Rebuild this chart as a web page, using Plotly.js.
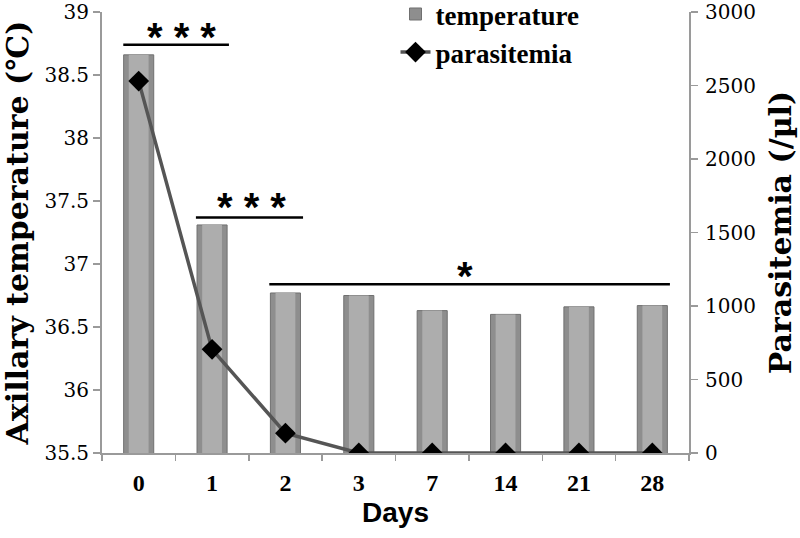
<!DOCTYPE html>
<html>
<head>
<meta charset="utf-8">
<script src="https://cdn.plot.ly/plotly-3.0.1.min.js"></script>
<style>body{margin:0;padding:0;background:#fff;}#chart{width:800px;height:538px;}</style>
</head>
<body>
<div id="chart"></div>
<script>
const days = ['0', '1', '2', '3', '7', '14', '21', '28'];
const temperature = [38.66, 37.31, 36.77, 36.75, 36.63, 36.60, 36.66, 36.67];
const parasitemia = [2530, 705, 135, 0, 0, 0, 0, 0];
const tempTicks = [35.5, 36, 36.5, 37, 37.5, 38, 38.5, 39];
const paraTicks = [0, 500, 1000, 1500, 2000, 2500, 3000];

const axisGrey = '#9a9a9a';

const traces = [
  {
    type: 'bar', x: days, y: temperature, name: 'temperature', width: 0.41,
    marker: {color: '#8e8e8e', line: {color: '#707070', width: 1}},
    hoverinfo: 'y'
  },
  {
    type: 'bar', x: days, y: temperature, name: 'temperature-inner', width: 0.27,
    marker: {color: '#adadad'}, showlegend: false, hoverinfo: 'skip'
  },
  {
    type: 'scatter', mode: 'lines+markers', x: days, y: parasitemia, name: 'parasitemia',
    yaxis: 'y2',
    line: {color: '#555555', width: 3.5},
    marker: {symbol: 'diamond', size: 16, color: '#000000'}
  }
];

const serifTick = {family: 'DejaVu Serif', size: 20, color: '#000'};
const titleFont = {family: 'DejaVu Serif', size: 30, color: '#000', weight: 'bold'};
const starFont = {family: 'Liberation Sans', size: 40, color: '#000', weight: 'bold'};

const layout = {
  width: 800, height: 538,
  margin: {l: 102, r: 111, t: 12, b: 85, autoexpand: false},
  paper_bgcolor: '#ffffff', plot_bgcolor: '#ffffff',
  barmode: 'overlay',
  showlegend: true,
  legend: {
    x: 0.50, y: 1.05, xanchor: 'left', yanchor: 'top',
    bgcolor: 'rgba(0,0,0,0)',
    font: {family: 'Liberation Serif', size: 27, color: '#000', weight: 'bold'},
    tracegroupgap: 0
  },
  xaxis: {
    type: 'category', categoryorder: 'array', categoryarray: days,
    range: [-0.5, 7.5],
    tickson: 'boundaries', ticks: 'outside', ticklen: 6, tickcolor: axisGrey, tickwidth: 1.5,
    showline: true, linecolor: axisGrey, linewidth: 2,
    showgrid: false, zeroline: false,
    ticklabelstandoff: 7,
    tickfont: {family: 'Liberation Serif', size: 24, color: '#000', weight: 'bold'},
    title: {text: 'Days', font: {family: 'Liberation Sans', size: 28, color: '#000', weight: 'bold'}, standoff: 8}
  },
  yaxis: {
    range: [35.5, 39], tickvals: tempTicks, ticktext: tempTicks.map(String),
    ticks: 'outside', ticklen: 7, tickcolor: axisGrey, tickwidth: 1.5,
    showline: true, linecolor: axisGrey, linewidth: 2,
    showgrid: false, zeroline: false,
    tickfont: serifTick,
    title: {text: 'Axillary temperature (℃)', font: titleFont, standoff: 7}
  },
  yaxis2: {
    overlaying: 'y', side: 'right',
    range: [0, 3000], tickvals: paraTicks, ticktext: paraTicks.map(String),
    ticks: 'outside', ticklen: 7, tickcolor: axisGrey, tickwidth: 1.5,
    showline: true, linecolor: axisGrey, linewidth: 2,
    showgrid: false, zeroline: false,
    ticklabelstandoff: 3,
    tickfont: serifTick,
    title: {text: 'Parasitemia (/µl)', font: titleFont, standoff: 15}
  },
  shapes: [
    {type: 'line', xref: 'x', yref: 'y', x0: -0.21, x1: 1.23, y0: 38.74, y1: 38.74, line: {color: '#000', width: 2.5}},
    {type: 'line', xref: 'x', yref: 'y', x0: 0.78, x1: 2.24, y0: 37.37, y1: 37.37, line: {color: '#000', width: 2.5}},
    {type: 'line', xref: 'x', yref: 'y', x0: 1.78, x1: 7.24, y0: 36.84, y1: 36.84, line: {color: '#000', width: 2.5}}
  ],
  annotations: [
    {xref: 'x', yref: 'y', x: 0.58, y: 38.74, text: '* * *', showarrow: false, yanchor: 'bottom', yshift: -16, font: starFont},
    {xref: 'x', yref: 'y', x: 1.54, y: 37.37, text: '* * *', showarrow: false, yanchor: 'bottom', yshift: -14, font: starFont},
    {xref: 'x', yref: 'y', x: 4.45, y: 36.84, text: '*', showarrow: false, yanchor: 'bottom', yshift: -16, font: starFont}
  ]
};

Plotly.newPlot('chart', traces, layout, {displayModeBar: false, staticPlot: true});
</script>
</body>
</html>
